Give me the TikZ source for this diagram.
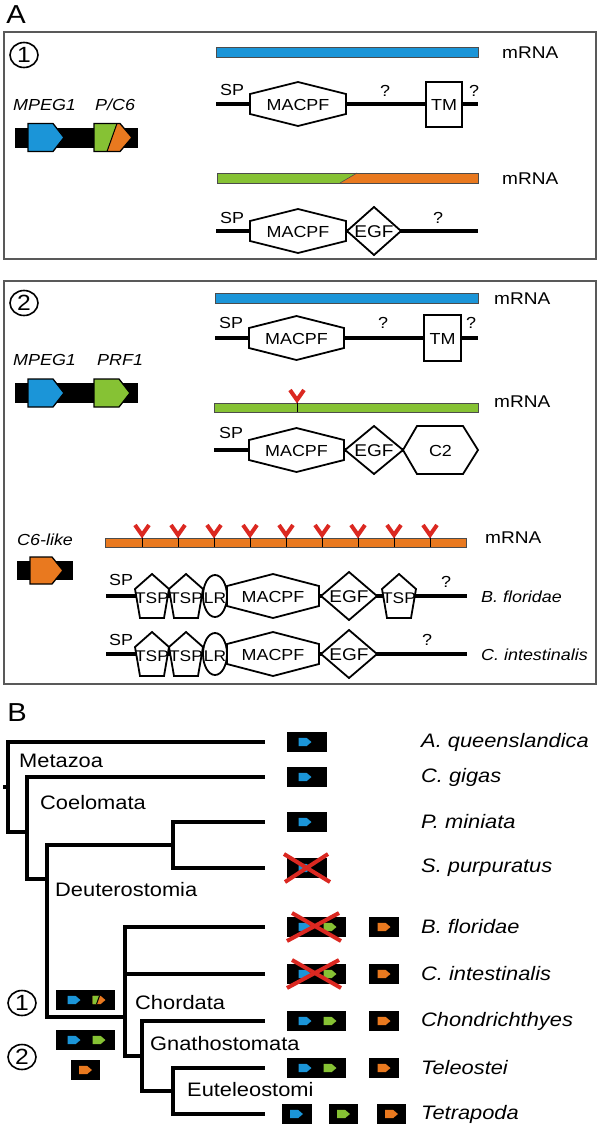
\documentclass[tikz,border=0pt]{standalone}
\usepackage{fontspec}
\setmainfont{Liberation Sans}[FakeStretch=1.12]
\usepackage{tikz}
\usetikzlibrary{shapes.geometric}

\definecolor{genblue}{RGB}{27,149,216}
\definecolor{gengreen}{RGB}{134,194,52}
\definecolor{genorange}{RGB}{233,121,31}
\definecolor{glyred}{RGB}{219,40,33}

\tikzset{
  box/.style={draw=black!65, line width=1.2},
  mrna/.style={draw=black!70, line width=0.6},
  backbone/.style={line width=4},
  dombox/.style={draw, fill=white, line width=1.8, line join=miter},
  gene/.style={draw, line width=1.3},
  txt/.style={inner sep=0, font=\fontsize{16}{16}\selectfont},
  domlab/.style={inner sep=0, font=\fontsize{15.5}{15.5}\selectfont},
  egflab/.style={inner sep=0, font=\fontsize{17}{17}\selectfont},
  rna/.style={inner sep=0, anchor=west, font=\fontsize{17}{17}\selectfont},
  gname/.style={inner sep=0, anchor=west, font=\fontsize{16}{16}\selectfont\itshape},
  panel/.style={inner sep=0, font=\fontsize{26}{26}\selectfont},
  circ/.style={draw, ellipse, line width=1.6, minimum width=28, minimum height=25, inner sep=0, font=\fontsize{22}{22}\selectfont},
  branch/.style={line width=3.6},
  clade/.style={inner sep=0, anchor=west, font=\fontsize{19.5}{19.5}\selectfont},
  species/.style={inner sep=0, anchor=west, font=\fontsize{19.5}{19.5}\selectfont\itshape},
  knockout/.style={draw=glyred, line width=4},
}

% gene on a locus: left end, centre line, colour
\newcommand{\biggene}[3]{%
  \draw[gene, fill=#3] (#1,#2-14) -- (#1+25,#2-14) -- (#1+36,#2) -- (#1+25,#2+14) -- (#1,#2+14) -- cycle;}
% protein domains
\newcommand{\macpfdom}[3]{%
  \draw[dombox] (#1-#3,#2-10) -- (#1,#2-22) -- (#1+#3,#2-10) -- (#1+#3,#2+10) -- (#1,#2+22) -- (#1-#3,#2+10) -- cycle;}
\newcommand{\egfdom}[3]{%
  \draw[dombox] (#1-#3,#2) -- (#1,#2-24) -- (#1+#3,#2) -- (#1,#2+24) -- cycle;}
\newcommand{\tspdom}[2]{%
  \draw[dombox] (#1,#2-22) -- (#1+17,#2-7) -- (#1+12,#2+22) -- (#1-12,#2+22) -- (#1-17,#2-7) -- cycle;}
% glycosylation mark on an mRNA bar: x, top of bar
\newcommand{\glyco}[2]{%
  \draw[line width=0.6] (#1,#2-3) -- (#1,#2+9);
  \draw[glyred, line width=4] (#1-7,#2-13) -- (#1,#2-3) -- (#1+7,#2-13);}
% small genes of the tree
\newcommand{\tinygene}[3]{%
  \fill[#3] (#1-6.5,#2-4.2) -- (#1+1.5,#2-4.2) -- (#1+6.5,#2) -- (#1+1.5,#2+4.2) -- (#1-6.5,#2+4.2) -- cycle;}
\newcommand{\tinysplit}[2]{%
  \tinygene{#1}{#2}{genorange}
  \fill[gengreen] (#1-6.5,#2-4.2) -- (#1+0.5,#2-4.2) -- (#1-2.5,#2+4.2) -- (#1-6.5,#2+4.2) -- cycle;
  \draw[line width=1] (#1+0.5,#2-4.2) -- (#1-2.5,#2+4.2);}

\begin{document}
\begin{tikzpicture}[x=1pt,y=-1pt]
\useasboundingbox (0,0) rectangle (600,1133);

%%% A
\node[panel] (A) at (16,15) {A};

% case 1
\draw[box] (4,32) rectangle (596,259);
\node[circ] (one) at (24,55) {1};
\node[gname] (mpegone) at (13,105) {MPEG1};
\node[gname] (pcsix) at (95,105) {P/C6};
\fill (15,127.5) rectangle (138,147.5);
\biggene{28}{137.5}{genblue}
\fill[gengreen] (94,123.5) -- (117,123.5) -- (107,151.5) -- (94,151.5) -- cycle;
\fill[genorange] (117,123.5) -- (120,123.5) -- (132,137.5) -- (120,151.5) -- (107,151.5) -- cycle;
\draw[gene] (94,123.5) -- (120,123.5) -- (132,137.5) -- (120,151.5) -- (94,151.5) -- cycle;
\draw[line width=1] (117,123.5) -- (107,151.5);

\draw[mrna, fill=genblue] (216,47) rectangle (478,57);
\node[rna] (rnaone) at (502,53) {mRNA};
\draw[backbone] (216,104) -- (478,104);
\macpfdom{298}{104}{48}
\draw[dombox] (426,82) rectangle (462,127);
\node[txt] (spone) at (232,90) {SP};
\node[txt] (macone) at (298,105) {MACPF};
\node[txt] (qone) at (385,91) {?};
\node[txt] (tmone) at (444,105) {TM};
\node[txt] (qtwo) at (474,91) {?};

\fill[gengreen] (217,173) -- (357,173) -- (340,183) -- (217,183) -- cycle;
\fill[genorange] (357,173) -- (478,173) -- (478,183) -- (340,183) -- cycle;
\draw[mrna] (217,173) rectangle (478,183);
\draw[mrna] (357,173) -- (340,183);
\node[rna] (rnatwo) at (502,179) {mRNA};
\draw[backbone] (216,231) -- (478,231);
\macpfdom{298}{231}{48}
\egfdom{374}{231}{27}
\node[txt] (sptwo) at (232,218) {SP};
\node[txt] (mactwo) at (298,232) {MACPF};
\node[egflab] (egfone) at (374,232) {EGF};
\node[txt] (qthree) at (438,218) {?};

% case 2
\draw[box] (4,281) rectangle (596,684);
\node[circ] (two) at (24,303) {2};
\node[gname] (mpegtwo) at (13,360) {MPEG1};
\node[gname] (prf) at (97,360) {PRF1};
\fill (15,383) rectangle (138,403);
\biggene{28}{393}{genblue}
\biggene{94}{393}{gengreen}

\draw[mrna, fill=genblue] (215,293) rectangle (478,303);
\node[rna] (rnathree) at (494,299) {mRNA};
\draw[backbone] (215,338) -- (478,338);
\macpfdom{296.5}{338}{47.5}
\draw[dombox] (424,315) rectangle (461,361);
\node[txt] (spthree) at (231,323) {SP};
\node[txt] (macthree) at (296.5,339) {MACPF};
\node[txt] (qfour) at (383,323) {?};
\node[txt] (tmtwo) at (442.5,339) {TM};
\node[txt] (qfive) at (471,323) {?};

\draw[mrna, fill=gengreen] (214,403) rectangle (478,412);
\glyco{297}{403}
\node[rna] (rnafour) at (494,402) {mRNA};
\draw[backbone] (214,450) -- (410,450);
\macpfdom{296.5}{450}{47.5}
\egfdom{374}{450}{29}
\draw[dombox] (403,450) -- (417,426) -- (463,426) -- (478,450) -- (463,474) -- (417,474) -- cycle;
\node[txt] (spfour) at (231,433) {SP};
\node[txt] (macfour) at (296.5,451) {MACPF};
\node[egflab] (egftwo) at (374,451) {EGF};
\node[txt] (ctwo) at (440.5,451) {C2};

% C6-like
\node[gname] (csix) at (17,540) {C6-like};
\fill (17,561) rectangle (73,580);
\draw[gene, fill=genorange] (30,557) -- (52,557) -- (63,570.5) -- (52,584) -- (30,584) -- cycle;

\draw[mrna, fill=genorange] (105,538) rectangle (466,547);
\foreach \x in {142,178,...,430}{
  \glyco{\x}{538}
}
\node[rna] (rnafive) at (485,538) {mRNA};

\draw[backbone] (106,596) -- (467,596);
\tspdom{152}{596}
\tspdom{186}{596}
\draw[dombox] (215,596) ellipse [x radius=12, y radius=21];
\macpfdom{273}{596}{46}
\egfdom{349}{596}{28}
\tspdom{399}{596}
\node[txt] (spfive) at (121,580) {SP};
\node[domlab] (tspa) at (152,598) {TSP};
\node[domlab] (tspb) at (186,598) {TSP};
\node[domlab] (lra) at (215,598) {LR};
\node[txt] (macfive) at (273,597) {MACPF};
\node[egflab] (egfthree) at (349,597) {EGF};
\node[domlab] (tspc) at (399,598) {TSP};
\node[txt] (qsix) at (446,582) {?};
\node[gname] (bfloa) at (481,597) {B. floridae};

\draw[backbone] (106,654) -- (467,654);
\tspdom{152}{654}
\tspdom{186}{654}
\draw[dombox] (215,654) ellipse [x radius=12, y radius=21];
\macpfdom{273}{654}{46}
\egfdom{349}{654}{28}
\node[txt] (spsix) at (121,640) {SP};
\node[domlab] (tspd) at (152,656) {TSP};
\node[domlab] (tspe) at (186,656) {TSP};
\node[domlab] (lrb) at (215,656) {LR};
\node[txt] (macsix) at (273,655) {MACPF};
\node[egflab] (egffour) at (349,655) {EGF};
\node[txt] (qseven) at (427,640) {?};
\node[gname] (cinta) at (481,655) {C. intestinalis};

%%% B
\node[panel] (B) at (17,713) {B};

\coordinate (root) at (3,787);
\coordinate (metazoa) at (8,787);
\coordinate (coelomata) at (27,832);
\coordinate (deutero) at (47,879);
\coordinate (ambul) at (173,845);
\coordinate (chordata) at (125,1017);
\coordinate (gnatho) at (142,1056);
\coordinate (eutel) at (173,1091);
\coordinate (aque) at (265,742);
\coordinate (cgig) at (265,777);
\coordinate (pmin) at (265,822);
\coordinate (spur) at (265,868);
\coordinate (bflo) at (265,927);
\coordinate (cint) at (265,974);
\coordinate (chon) at (265,1021);
\coordinate (tele) at (265,1068);
\coordinate (tetr) at (265,1114);

\draw[branch] (root) -- (metazoa);
\draw[branch] (metazoa) |- (aque);
\draw[branch] (metazoa) |- (coelomata);
\draw[branch] (coelomata) |- (cgig);
\draw[branch] (coelomata) |- (deutero);
\draw[branch] (deutero) |- (ambul);
\draw[branch] (deutero) |- (chordata);
\draw[branch] (ambul) |- (pmin);
\draw[branch] (ambul) |- (spur);
\draw[branch] (chordata) |- (bflo);
\draw[branch] (chordata) |- (cint);
\draw[branch] (chordata) |- (gnatho);
\draw[branch] (gnatho) |- (chon);
\draw[branch] (gnatho) |- (eutel);
\draw[branch] (eutel) |- (tele);
\draw[branch] (eutel) |- (tetr);

\node[clade] (lmeta) at (19,761) {Metazoa};
\node[clade] (lcoel) at (40,803) {Coelomata};
\node[clade] (ldeut) at (55,890) {Deuterostomia};
\node[clade] (lchor) at (135,1003) {Chordata};
\node[clade] (lgnat) at (150,1044) {Gnathostomata};
\node[clade] (leute) at (187,1090) {Euteleostomi};

% gene content of the ancestors
\node[circ] (onetree) at (22,1003) {1};
\node[circ] (twotree) at (22,1057) {2};
\fill (56,990) rectangle (115,1010);
\tinygene{74}{1000}{genblue}
\tinysplit{99}{1000}
\fill (56,1030) rectangle (115,1050);
\tinygene{74}{1040}{genblue}
\tinygene{99}{1040}{gengreen}
\fill (71,1060) rectangle (100,1080);
\tinygene{85.5}{1070}{genorange}

% gene content of the species
\fill (287,732) rectangle (327,752);
\tinygene{305}{742}{genblue}
\fill (287,767) rectangle (327,787);
\tinygene{305}{777}{genblue}
\fill (287,812) rectangle (327,832);
\tinygene{305}{822}{genblue}
\fill (287,858) rectangle (327,878);
\tinygene{305}{868}{genblue}
\draw[knockout] (284,854) -- (330,882);
\draw[knockout] (285,882) -- (328,854);

\fill (287,917) rectangle (346,937);
\tinygene{305}{927}{genblue}
\tinygene{330}{927}{gengreen}
\draw[knockout] (292,913) -- (341,941);
\draw[knockout] (287,941) -- (339,913);
\fill (369,917) rectangle (399,937);
\tinygene{384}{927}{genorange}

\fill (287,964) rectangle (346,984);
\tinygene{305}{974}{genblue}
\tinygene{330}{974}{gengreen}
\draw[knockout] (292,960) -- (341,988);
\draw[knockout] (287,988) -- (339,960);
\fill (369,964) rectangle (399,984);
\tinygene{384}{974}{genorange}

\fill (287,1011) rectangle (346,1031);
\tinygene{305}{1021}{genblue}
\tinygene{330}{1021}{gengreen}
\fill (369,1011) rectangle (399,1031);
\tinygene{384}{1021}{genorange}

\fill (287,1058) rectangle (346,1078);
\tinygene{305}{1068}{genblue}
\tinygene{330}{1068}{gengreen}
\fill (369,1058) rectangle (399,1078);
\tinygene{384}{1068}{genorange}

\fill (282,1104) rectangle (312,1124);
\tinygene{296.5}{1114}{genblue}
\fill (329,1104) rectangle (358,1124);
\tinygene{343.5}{1114}{gengreen}
\fill (377,1104) rectangle (406,1124);
\tinygene{391.5}{1114}{genorange}

\node[species] (saque) at (421,742) {A. queenslandica};
\node[species] (scgig) at (421,777) {C. gigas};
\node[species] (spmin) at (421,822) {P. miniata};
\node[species] (sspur) at (421,868) {S. purpuratus};
\node[species] (sbflo) at (421,927) {B. floridae};
\node[species] (scint) at (421,974) {C. intestinalis};
\node[species] (schon) at (421,1021) {Chondrichthyes};
\node[species] (stele) at (421,1068) {Teleostei};
\node[species] (stetr) at (421,1114) {Tetrapoda};
\end{tikzpicture}
\end{document}
